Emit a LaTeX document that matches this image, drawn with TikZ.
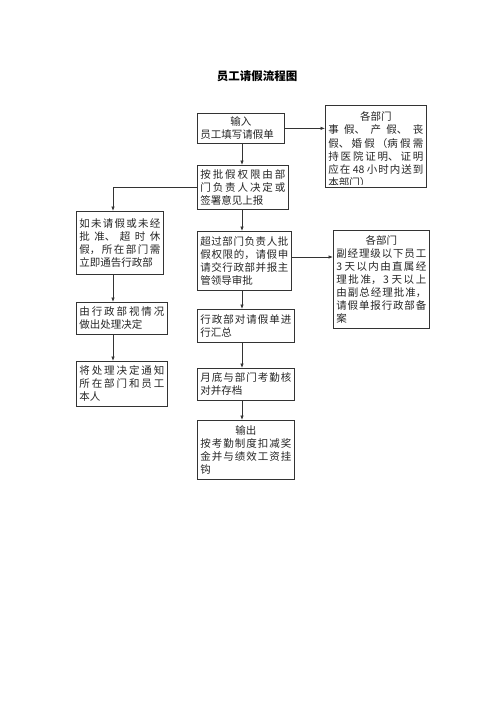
\documentclass[tikz,border=0pt]{standalone}
\usepackage{fontspec}
\usetikzlibrary{arrows.meta}
\newfontfamily\cjk{Noto Sans CJK SC}
\XeTeXlinebreaklocale "zh"
\XeTeXlinebreakskip=0pt plus 8pt
\setlength\parindent{0pt}
\tolerance=9999
\hbadness=10000
\newcommand\ctrline[1]{\hskip0pt plus1filll #1\hskip0pt plus1filll\null}
\tikzset{
  box/.style={draw=black!80, line width=0.7pt, anchor=north west, inner xsep=3pt, inner ysep=2pt,
    font=\cjk\fontsize{10.5}{13}\selectfont, align=justify, text=black!85},
  arr/.style={draw=black!80, line width=0.7pt, -{Latex[length=4.5pt,width=3.5pt]}},
  ln/.style={draw=black!80, line width=0.7pt}
}
\begin{document}
\begin{tikzpicture}[x=1pt,y=-1pt]
\fill[white] (0,0) rectangle (500,707);
\useasboundingbox (0,0) rectangle (500,707);
\node[font=\cjk\bfseries\fontsize{11.5}{14}\selectfont] (title) at (257,76) {员工请假流程图};
% main column
\node[box, text width=81pt, minimum height=30pt] (in) at (197,113) {\ctrline{输入}\linebreak \ctrline{员工填写请假单}};
\node[box, text width=85pt, minimum height=44pt] (ap) at (197,165) {按批假权限由部\linebreak 门负责人决定或\linebreak 签署意见上报};
\node[box, text width=88pt, minimum height=59pt] (cg) at (197,231) {超过部门负责人批\linebreak 假权限的，请假申\linebreak 请交行政部并报主\linebreak 管领导审批};
\node[box, text width=91pt, minimum height=33pt] (hz) at (197,309) {行政部对请假单进\linebreak 行汇总};
\node[box, text width=91pt, minimum height=32pt] (yd) at (197,368) {月底与部门考勤核\linebreak 对并存档};
\node[box, text width=91pt, minimum height=59pt] (out) at (197,420) {\ctrline{输出}\linebreak 按考勤制度扣减奖\linebreak 金并与绩效工资挂\linebreak 钩};
% left column
\node[box, text width=81pt, minimum height=63pt] (l1) at (76,211) {如未请假或未经\linebreak 批准、超时休\linebreak 假，所在部门需\linebreak 立即通告行政部};
\node[box, text width=85pt, minimum height=32pt] (l2) at (76,302) {由行政部视情况\linebreak 做出处理决定};
\node[box, text width=85pt, minimum height=45pt] (l3) at (76,361) {将处理决定通知\linebreak 所在部门和员工\linebreak 本人};
% right column
\node[box, minimum width=101pt, minimum height=82pt, inner sep=0pt] (d1) at (325,105) {};
\begin{scope}
  \clip (d1.north west) rectangle ([yshift=3.5pt]d1.south east);
  \node[box, draw=none, text width=95pt, font=\cjk\fontsize{10.5}{13.2}\selectfont] (d1t) at ([yshift=-4.5pt]d1.north west) {\ctrline{各部门}\linebreak 事假、产假、丧\linebreak 假、婚假（病假需\linebreak 持医院证明、证明\linebreak 应在 48 小时内送到\linebreak 本部门）};
\end{scope}
\node[box, text width=90pt, minimum height=98pt] (d2) at (333,230) {\ctrline{各部门}\linebreak 副经理级以下员工\linebreak 3 天以内由直属经\linebreak 理批准，3 天以上\linebreak 由副总经理批准，\linebreak 请假单报行政部备\linebreak 案};
% connectors
\coordinate (mx) at (242,0);
\coordinate (lx) at (113,0);
\draw[arr] (mx |- in.south) -- (mx |- ap.north);
\draw[arr] (in.east) -- (in.east -| d1.west);
\draw[arr] (ap.west) -| (lx |- l1.north);
\draw[arr] (mx |- ap.south) -- (mx |- cg.north);
\coordinate (cy) at (0,257);
\draw[arr] (cg.east |- cy) -- (d2.west |- cy);
\draw[arr] (mx |- cg.south) -- (mx |- hz.north);
\draw[arr] (mx |- hz.south) -- (mx |- yd.north);
\draw[arr] (mx |- yd.south) -- (mx |- out.north);
\draw[arr] (lx |- l1.south) -- (lx |- l2.north);
\draw[arr] (lx |- l2.south) -- (lx |- l3.north);
\end{tikzpicture}
\end{document}
